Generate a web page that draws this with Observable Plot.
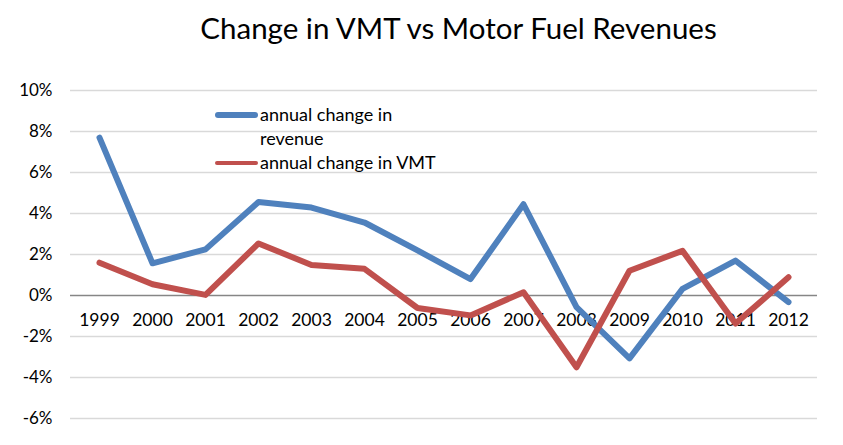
<!DOCTYPE html>
<html>
<head>
<meta charset="utf-8">
<script src="https://cdn.jsdelivr.net/npm/d3@7"></script>
<script src="https://cdn.jsdelivr.net/npm/@observablehq/plot@0.6"></script>
<style>
  html, body { margin: 0; padding: 0; background: #fff; }
  body { width: 843px; height: 445px; position: relative; overflow: hidden; font-family: Lato, "Open Sans", sans-serif; }
  #title { position: absolute; left: 0; top: 0; width: 843px; height: 60px; text-align: center; font-size: 29.5px; line-height: 56px; color: #000; padding-left: 74px; box-sizing: border-box; }
  #chart { position: absolute; left: 0; top: 60px; }
  .leg { position: absolute; font-size: 18px; color: #000; line-height: 24px; }
  .sw { position: absolute; border-radius: 3px; }
</style>
</head>
<body>
<div id="title">Change in VMT vs Motor Fuel Revenues</div>
<div id="chart"></div>
<div class="sw" style="left:215px; top:112px; width:43px; height:6px; background:#4F81BD;"></div>
<div class="leg" style="left:260px; top:102px;">annual change in<br>revenue</div>
<div class="sw" style="left:215px; top:161px; width:43px; height:4px; background:#C0504D;"></div>
<div class="leg" style="left:260px; top:150px;">annual change in VMT</div>
<script>
const years = [1999, 2000, 2001, 2002, 2003, 2004, 2005, 2006, 2007, 2008, 2009, 2010, 2011, 2012];
const revenueChange = [7.7, 1.57, 2.25, 4.56, 4.29, 3.56, 2.2, 0.8, 4.45, -0.57, -3.07, 0.32, 1.7, -0.32];
const vmtChange = [1.6, 0.55, 0.03, 2.54, 1.49, 1.3, -0.61, -0.97, 0.16, -3.5, 1.21, 2.18, -1.37, 0.89];
const yTicks = [-6, -4, -2, 0, 2, 4, 6, 8, 10];
const seriesNames = ["annual change in revenue", "annual change in VMT"];
const seriesColors = ["#4F81BD", "#C0504D"];

const rows = [];
years.forEach((yr, i) => {
  rows.push({year: yr, value: revenueChange[i], series: seriesNames[0]});
});
years.forEach((yr, i) => {
  rows.push({year: yr, value: vmtChange[i], series: seriesNames[1]});
});

const chart = Plot.plot({
  width: 843,
  height: 385,
  marginLeft: 70,
  marginRight: 26,
  marginTop: 30,
  marginBottom: 27,
  style: {fontFamily: "Lato, 'Open Sans', sans-serif", fontSize: "17px", color: "#000", background: "#fff"},
  x: {type: "point", domain: years, padding: 0.5, axis: null},
  y: {domain: [-6, 10], ticks: yTicks, tickFormat: d => d + "%", tickSize: 0, tickPadding: 18, label: null},
  color: {domain: seriesNames, range: seriesColors},
  marks: [
    Plot.gridY(yTicks.filter(t => t !== 0), {stroke: "#d9d9d9", strokeOpacity: 1, strokeWidth: 1.5}),
    Plot.ruleY([0], {stroke: "#868686", strokeWidth: 1.5}),
    Plot.text(years, {x: d => d, y: () => 0, dy: 25, text: d => String(d), fill: "#000", fontSize: 17.5}),
    Plot.line(rows, {x: "year", y: "value", z: "series", stroke: "series", strokeWidth: 6, strokeLinejoin: "round", strokeLinecap: "round"})
  ]
});
document.getElementById("chart").appendChild(chart);
</script>
</body>
</html>
